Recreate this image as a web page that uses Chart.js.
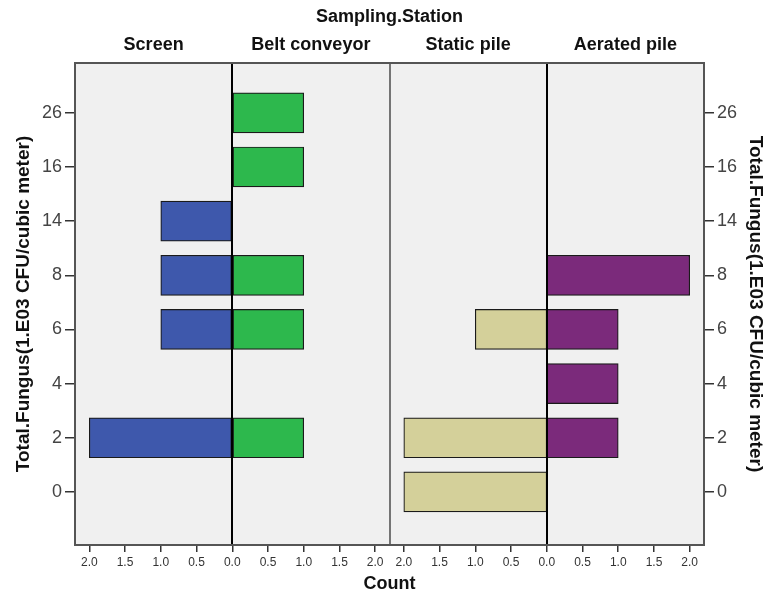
<!DOCTYPE html>
<html><head><meta charset="utf-8">
<script src="https://cdn.jsdelivr.net/npm/chart.js@4"></script>
<style>html,body{margin:0;padding:0;background:#fff}#wrap{width:776px;height:595px}</style>
</head><body><div id="wrap"><canvas id="c" width="776" height="595"></canvas></div>
<script>
// ---- data ----
const categories = ['0','2','4','6','8','14','16','26'];   // Total.Fungus levels (bottom -> top)
const stations = ['Screen','Belt conveyor','Static pile','Aerated pile'];
const screenCounts  = [0,2,0,1,1,1,0,0];
const beltCounts    = [0,1,0,1,1,0,1,1];
const staticCounts  = [2,2,0,1,0,0,0,0];
const aeratedCounts = [0,1,1,1,2,0,0,0];
const countTickValues = [0,0.5,1,1.5,2];

// ---- panel geometry (in count units) ----
const HALF = 2.2;            // half-width of each panel
const LEFT_C = 0, RIGHT_C = 2*HALF;

function bars(counts, center, dir){
  const out=[];
  counts.forEach((c,i)=>{ if(c>0){ out.push({y:i, x: dir<0 ? [center-c, center] : [center, center+c]}); } });
  return out;
}
const tickVals = [];
countTickValues.slice().reverse().forEach(v=>tickVals.push(LEFT_C - v));
countTickValues.slice(1).forEach(v=>tickVals.push(LEFT_C + v));
countTickValues.slice().reverse().forEach(v=>tickVals.push(RIGHT_C - v));
countTickValues.slice(1).forEach(v=>tickVals.push(RIGHT_C + v));

const FONT = "'Liberation Sans', Arial, sans-serif";

const panelPlugin = {
  id:'panels',
  beforeDraw(chart){
    const {ctx, chartArea:a} = chart;
    ctx.save(); ctx.fillStyle='#f0f0f0';
    ctx.fillRect(a.left,a.top,a.right-a.left,a.bottom-a.top); ctx.restore();
  },
  afterDatasetsDraw(chart){
    const {ctx, chartArea:a} = chart; const xs = chart.scales.x;
    ctx.save();
    const vline=(v,w,c)=>{ const px=Math.round(xs.getPixelForValue(v)); ctx.strokeStyle=c; ctx.lineWidth=w;
      ctx.beginPath(); ctx.moveTo(px,a.top); ctx.lineTo(px,a.bottom); ctx.stroke(); };
    vline(LEFT_C,2,'#000'); vline(RIGHT_C,2,'#000'); vline(HALF,1.2,'#222');
    ctx.strokeStyle='#555'; ctx.lineWidth=2;
    ctx.strokeRect(a.left,a.top,a.right-a.left,a.bottom-a.top);
    ctx.restore();
  }
};

const common = {borderColor:'#1a1a1a', borderWidth:1.2, borderSkipped:false, barThickness:40, grouped:false};
const yCommon = {
  type:'linear', min:-0.98, max:7.92, offset:false,
  afterBuildTicks: s=>{ s.ticks = categories.map((c,i)=>({value:i})); },
  grid:{ offset:false, drawOnChartArea:false, drawTicks:true, tickLength:10, color:'#333', lineWidth:1.5 },
  border:{display:false}
};
new Chart(document.getElementById('c'), {
  type:'bar',
  data:{ datasets:[
    {label:stations[0], data:bars(screenCounts,LEFT_C,-1), backgroundColor:'#3e58ac', ...common},
    {label:stations[1], data:bars(beltCounts,LEFT_C,1), backgroundColor:'#2db84d', ...common},
    {label:stations[2], data:bars(staticCounts,RIGHT_C,-1), backgroundColor:'#d4d09a', ...common},
    {label:stations[3], data:bars(aeratedCounts,RIGHT_C,1), backgroundColor:'#7b2a7b', ...common}
  ]},
  plugins:[panelPlugin],
  options:{
    indexAxis:'y', responsive:false, animation:false,
    layout:{padding:0},
    plugins:{legend:{display:false}, tooltip:{enabled:false}},
    scales:{
      x:{ type:'linear', position:'bottom', min:-HALF, max:3*HALF,
        afterBuildTicks: s=>{ s.ticks = tickVals.map(v=>({value:v})); },
        afterFit: s=>{ s.height = 50; },
        ticks:{ autoSkip:false, maxRotation:0, padding:3, color:'#333', font:{family:FONT,size:12},
          callback:(v)=> (v < HALF ? Math.abs(v-LEFT_C) : Math.abs(v-RIGHT_C)).toFixed(1) },
        grid:{ drawOnChartArea:false, drawTicks:true, tickLength:7, color:'#333', lineWidth:1.5 },
        border:{display:false},
        title:{ display:true, text:'Count', color:'#111', font:{family:FONT,size:18,weight:'bold'}, padding:{top:2,bottom:0} }
      },
      xTop:{ type:'linear', position:'top', min:-HALF, max:3*HALF,
        afterBuildTicks: s=>{ s.ticks = [LEFT_C-HALF/2, LEFT_C+HALF/2, RIGHT_C-HALF/2, RIGHT_C+HALF/2].map(v=>({value:v})); },
        afterFit: s=>{ s.height = 63; },
        ticks:{ autoSkip:false, maxRotation:0, padding:7, color:'#111', font:{family:FONT,size:18,weight:'bold'},
          callback:(v,i)=> stations[i] },
        grid:{display:false, drawTicks:false}, border:{display:false},
        title:{ display:true, text:'Sampling.Station', color:'#111', font:{family:FONT,size:18,weight:'bold'}, padding:{top:6,bottom:0} }
      },
      y:{ ...yCommon, position:'left',
        afterFit: s=>{ s.width = 75; },
        ticks:{ autoSkip:false, padding:3, color:'#444', font:{family:FONT,size:18},
          callback:(v)=> categories[v] },
        title:{ display:true, text:'Total.Fungus(1.E03 CFU/cubic meter)', color:'#111', font:{family:FONT,size:19,weight:'bold'}, padding:{top:12,bottom:0} }
      },
      y2:{ ...yCommon, position:'right',
        afterFit: s=>{ s.width = 72; },
        ticks:{ autoSkip:false, padding:3, color:'#444', font:{family:FONT,size:18},
          callback:(v)=> categories[v] },
        title:{ display:true, text:'Total.Fungus(1.E03 CFU/cubic meter)', color:'#111', font:{family:FONT,size:19,weight:'bold'}, padding:{top:9,bottom:0} }
      }
    }
  }
});
</script>
</body></html>
